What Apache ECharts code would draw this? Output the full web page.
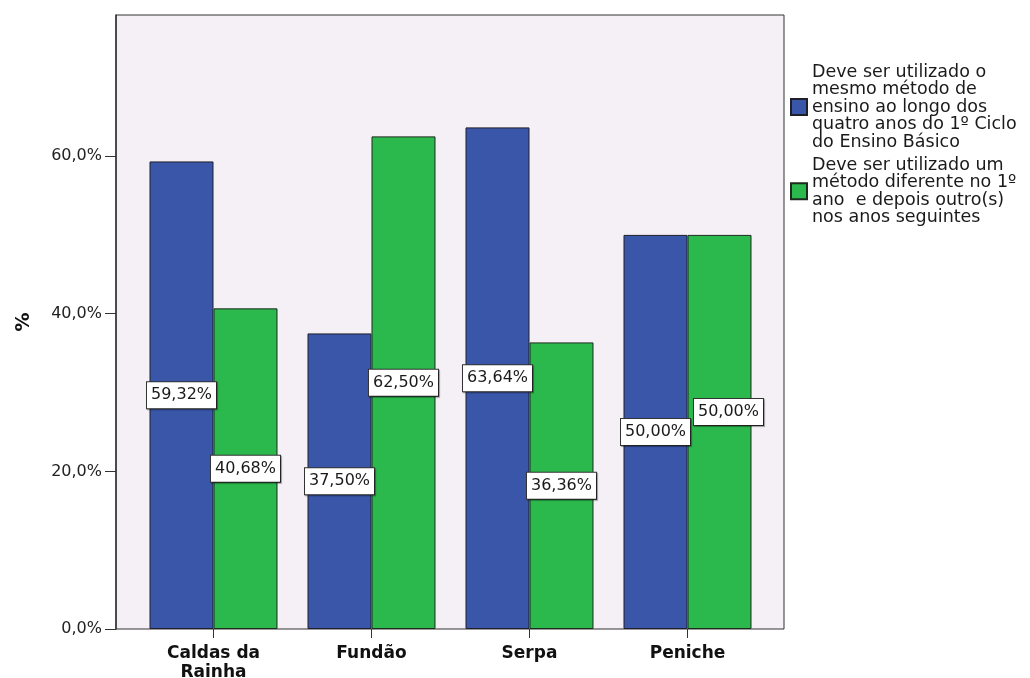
<!DOCTYPE html>
<html>
<head>
<meta charset="utf-8">
<script src="https://cdn.jsdelivr.net/npm/echarts@6/dist/echarts.min.js"></script>
<style>
  html, body { margin: 0; padding: 0; background: #ffffff; }
  #chart { width: 1030px; height: 678px; }
</style>
</head>
<body>
<div id="chart"></div>
<script>
// Categories (schools) and percentages per answer
const categories = ['Caldas da\nRainha', 'Fundão', 'Serpa', 'Peniche'];
const seriesNames = [
  'Deve ser utilizado o\nmesmo método de\nensino ao longo dos\nquatro anos do 1º Ciclo\ndo Ensino Básico',
  'Deve ser utilizado um\nmétodo diferente no 1º\nano  e depois outro(s)\nnos anos seguintes'
];
const sameMethod = [59.32, 37.50, 63.64, 50.00];
const differentMethod = [40.68, 62.50, 36.36, 50.00];
const yTicks = [0, 20, 40, 60];

const FONT = '"DejaVu Sans", Verdana, sans-serif';
const Y_MAX = 77.9;

const fmtPct = (v, d) => v.toFixed(d).replace('.', ',') + '%';

const valueLabel = {
  show: true,
  position: 'inside',
  formatter: p => fmtPct(p.value, 2),
  fontFamily: FONT,
  fontSize: 16,
  lineHeight: 18,
  color: '#1a1a1a',
  backgroundColor: '#ffffff',
  borderColor: '#333333',
  borderWidth: 1,
  padding: [4, 4, 4, 4],
  shadowColor: 'rgba(0,0,0,0.35)',
  shadowOffsetX: 1,
  shadowOffsetY: 1,
  shadowBlur: 1
};

// the second Peniche label is nudged so it does not sit on top of its neighbour
const labelNudge = { 3: [9, -20] };
const greenData = differentMethod.map((v, i) =>
  labelNudge[i] ? { value: v, label: { offset: labelNudge[i] } } : v);

const chart = echarts.init(document.getElementById('chart'), null, { renderer: 'canvas' });

chart.setOption({
  animation: false,
  backgroundColor: '#ffffff',
  grid: [
    { left: 116, top: 15, width: 668, height: 614, show: true, outerBoundsMode: 'none',
      backgroundColor: '#f5f0f5', borderColor: '#333333', borderWidth: 1 },
    { left: 134.5, top: 15, width: 632, height: 614, outerBoundsMode: 'none' }
  ],
  xAxis: [
    { gridIndex: 0, type: 'value', show: false, min: 0, max: 1 },
    {
      gridIndex: 1, type: 'category', data: categories,
      axisLine: { show: false },
      axisTick: { show: true, alignWithLabel: true, length: 9,
        lineStyle: { color: '#333333', width: 1 } },
      axisLabel: { fontFamily: FONT, fontWeight: 'bold', fontSize: 17,
        lineHeight: 19, color: '#111111', margin: 15 }
    }
  ],
  yAxis: [
    {
      gridIndex: 0, type: 'value', min: 0, max: Y_MAX,
      name: '%', nameLocation: 'middle', nameGap: 82, nameRotate: 90,
      nameTextStyle: { fontFamily: FONT, fontWeight: 'bold', fontSize: 19, color: '#111111' },
      axisLine: { show: true, lineStyle: { color: '#333333', width: 1.5 } },
      axisTick: { show: true, length: 11, customValues: yTicks,
        lineStyle: { color: '#333333', width: 1 } },
      axisLabel: { customValues: yTicks, formatter: v => fmtPct(v, 1),
        fontFamily: FONT, fontSize: 16, color: '#222222', margin: 14 },
      splitLine: { show: false }
    },
    { gridIndex: 1, type: 'value', min: 0, max: Y_MAX, show: false }
  ],
  legend: {
    orient: 'vertical',
    left: 785,
    top: 58,
    itemWidth: 16,
    itemHeight: 16,
    itemGap: 5,
    icon: 'rect',
    data: seriesNames,
    textStyle: { fontFamily: FONT, fontSize: 17.5, lineHeight: 17.5, color: '#1a1a1a' }
  },
  series: [
    {
      name: seriesNames[0], type: 'bar', xAxisIndex: 1, yAxisIndex: 1,
      data: sameMethod, barGap: '0%', barCategoryGap: '19%',
      itemStyle: { color: '#3a56a9', borderColor: '#1f1f2a', borderWidth: 1 },
      label: valueLabel
    },
    {
      name: seriesNames[1], type: 'bar', xAxisIndex: 1, yAxisIndex: 1,
      data: greenData, barGap: '0%', barCategoryGap: '19%',
      itemStyle: { color: '#2bb84c', borderColor: '#1f2a1f', borderWidth: 1 },
      label: valueLabel
    }
  ]
});
</script>
</body>
</html>
